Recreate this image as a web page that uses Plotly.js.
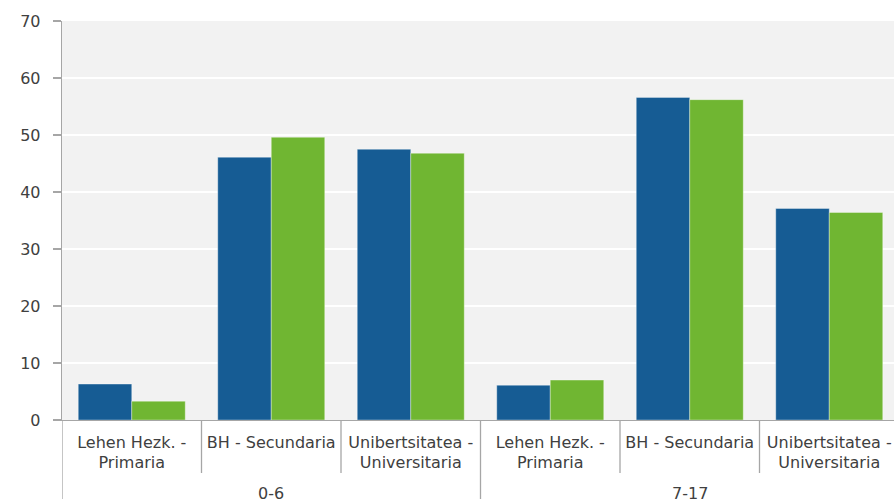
<!DOCTYPE html>
<html>
<head>
<meta charset="utf-8">
<script src="https://cdn.plot.ly/plotly-3.0.1.min.js"></script>
<style>
  html, body { margin: 0; padding: 0; overflow: hidden; background: #ffffff; }
  #chart { width: 900px; height: 499px; }
</style>
</head>
<body>
<div id="chart"></div>
<script>
// Age groups (outer level) and education levels (inner level)
const ageGroups = ["0-6", "0-6", "0-6", "7-17", "7-17", "7-17"];
const levels = [
  "Lehen Hezk. -<br>Primaria",
  "BH - Secundaria",
  "Unibertsitatea -<br>Universitaria",
  "Lehen Hezk. -<br>Primaria",
  "BH - Secundaria",
  "Unibertsitatea -<br>Universitaria"
];
const seriesBlue = [6.3, 46.1, 47.5, 6.1, 56.6, 37.1];
const seriesGreen = [3.3, 49.6, 46.8, 7.0, 56.2, 36.4];
const yTicks = [0, 10, 20, 30, 40, 50, 60, 70];

const idx = levels.map((_, i) => i);
const tickFont = { family: "DejaVu Sans, Verdana, sans-serif", size: 16, color: "#404040" };
const axisGrey = "#a6a6a6";

const traces = [
  {
    type: "bar", x: idx, y: seriesBlue,
    marker: { color: "#165c94", line: { color: "rgba(255,255,255,0.35)", width: 1 } },
    hoverinfo: "y"
  },
  {
    type: "bar", x: idx, y: seriesGreen,
    marker: { color: "#70b632", line: { color: "rgba(255,255,255,0.35)", width: 1 } },
    hoverinfo: "y"
  }
];

// Separators below the axis: short ones between levels, long ones around each age group
const shapes = [];
const annotations = [];
for (let k = 0; k <= levels.length; k++) {
  const groupEdge = k === 0 || k === levels.length || ageGroups[k] !== ageGroups[k - 1];
  shapes.push({
    type: "line", xref: "x", yref: "paper",
    x0: k - 0.5, x1: k - 0.5,
    ysizemode: "pixel", yanchor: 0, y0: 0, y1: groupEdge ? -90 : -53,
    line: { color: axisGrey, width: 1.3 }
  });
}
// One label centred under each age group
let start = 0;
for (let k = 1; k <= levels.length; k++) {
  if (k === levels.length || ageGroups[k] !== ageGroups[start]) {
    annotations.push({
      xref: "x", yref: "paper",
      x: (start + k - 1) / 2, y: 0,
      yanchor: "middle", yshift: -73,
      text: ageGroups[start], showarrow: false,
      font: tickFont
    });
    start = k;
  }
}

const layout = {
  width: 900, height: 499,
  margin: { l: 62, r: 1, t: 21, b: 79 },
  paper_bgcolor: "#ffffff",
  plot_bgcolor: "#f2f2f2",
  showlegend: false,
  barmode: "group",
  bargap: 0.233,
  bargroupgap: 0,
  font: tickFont,
  xaxis: {
    range: [-0.5, levels.length - 0.5],
    tickvals: idx,
    ticktext: levels,
    showline: true, linecolor: axisGrey, linewidth: 1.3,
    showgrid: false, zeroline: false,
    ticks: "",
    ticklabelstandoff: 7,
    tickfont: tickFont
  },
  yaxis: {
    range: [0, 70],
    tickvals: yTicks,
    ticktext: yTicks.map(String),
    showline: true, linecolor: axisGrey, linewidth: 1.3,
    ticks: "outside", ticklen: 8, tickcolor: axisGrey, tickwidth: 1.3,
    showgrid: true, gridcolor: "#ffffff", gridwidth: 1.2,
    zeroline: false,
    tickfont: tickFont,
    ticklabelstandoff: 9
  },
  shapes: shapes,
  annotations: annotations
};

Plotly.newPlot("chart", traces, layout, { displayModeBar: false, staticPlot: true });
</script>
</body>
</html>
